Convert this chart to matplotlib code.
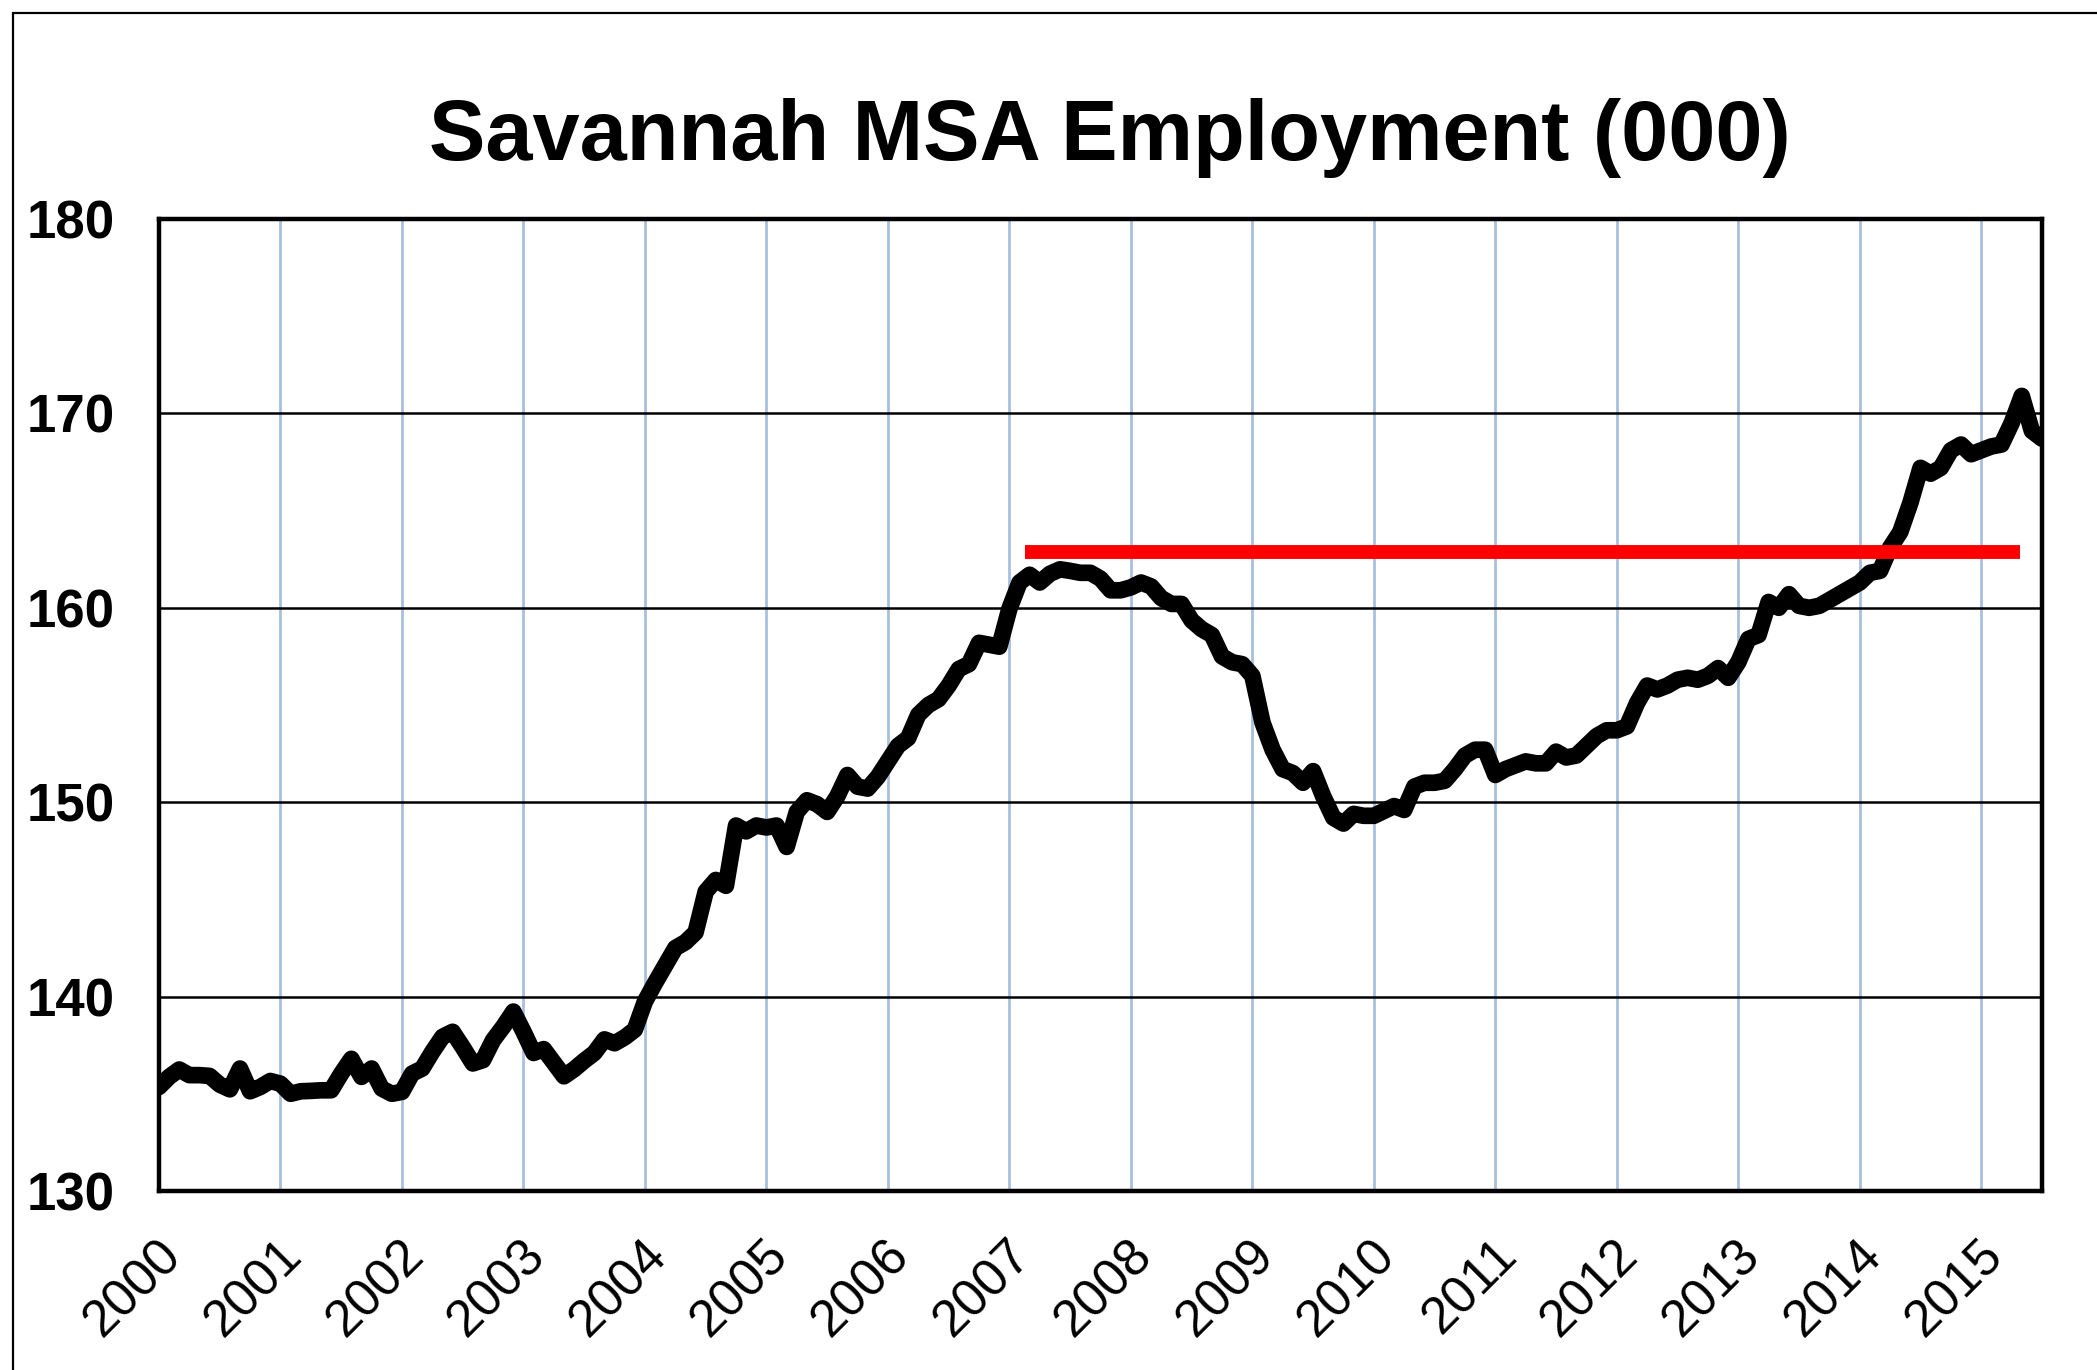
import matplotlib
matplotlib.use('Agg')
import matplotlib.pyplot as plt
import matplotlib.transforms as mtransforms
from matplotlib.patches import Rectangle

# monthly employment (000), Jan of each year onward
y2000 = [135.35, 135.87, 136.25, 135.96, 135.96, 135.92, 135.47, 135.23, 136.3, 135.13, 135.35, 135.66]
y2001 = [135.52, 135.0, 135.13, 135.15, 135.18, 135.18, 136.04, 136.8, 135.87, 136.3, 135.27, 135.0]
y2002 = [135.1, 136.04, 136.3, 137.16, 137.93, 138.19, 137.4, 136.56, 136.73, 137.76, 138.45, 139.23]
y2003 = [138.2, 137.1, 137.3, 136.6, 135.9, 136.26, 136.7, 137.1, 137.8, 137.6, 137.9, 138.3]
y2004 = [139.75, 140.7, 141.6, 142.5, 142.8, 143.3, 145.4, 146.0, 145.7, 148.8, 148.5, 148.8]
y2005 = [148.7, 148.8, 147.7, 149.5, 150.1, 149.9, 149.5, 150.3, 151.4, 150.8, 150.7, 151.3]
y2006 = [152.1, 152.9, 153.3, 154.5, 155.0, 155.3, 156.0, 156.85, 157.1, 158.2, 158.1, 158.0]
y2007 = [159.95, 161.3, 161.7, 161.3, 161.75, 161.98, 161.9, 161.8, 161.8, 161.5, 160.9, 160.9]
y2008 = [161.05, 161.3, 161.1, 160.5, 160.2, 160.2, 159.35, 158.9, 158.6, 157.5, 157.2, 157.1]
y2009 = [156.5, 154.1, 152.7, 151.7, 151.5, 151.0, 151.6, 150.3, 149.2, 148.9, 149.4, 149.3]
y2010 = [149.3, 149.55, 149.8, 149.6, 150.8, 151.0, 151.0, 151.1, 151.7, 152.4, 152.7, 152.7]
y2011 = [151.4, 151.7, 151.9, 152.1, 152.0, 152.0, 152.6, 152.3, 152.4, 152.9, 153.4, 153.7]
y2012 = [153.7, 153.9, 155.1, 156.0, 155.8, 156.0, 156.3, 156.4, 156.3, 156.5, 156.9, 156.4]
y2013 = [157.2, 158.4, 158.6, 160.3, 160.0, 160.7, 160.1, 160.0, 160.1, 160.4, 160.7, 161.0]
y2014 = [161.3, 161.8, 161.9, 163.1, 163.9, 165.4, 167.2, 166.9, 167.2, 168.1, 168.4, 167.9]
y2015 = [168.1, 168.3, 168.4, 169.5, 170.9, 169.1, 168.7]

years = list(range(2000, 2016))
year_labels = [str(y) for y in years]
y_ticks = [130, 140, 150, 160, 170, 180]

# red reference line: pre-recession peak level
peak_level = 162.85
peak_from = 2007.13
peak_to = 2015.32

employment = y2000 + y2001 + y2002 + y2003 + y2004 + y2005 + y2006 + y2007 + \
    y2008 + y2009 + y2010 + y2011 + y2012 + y2013 + y2014 + y2015
dates = [2000 + i / 12 for i in range(len(employment))]

W, H = 2097, 1370
fig = plt.figure(figsize=(W / 100, H / 100), dpi=100)
fig.patch.set_facecolor('white')

# thin frame around the chart area
fig.patches.append(Rectangle((13 / W, -0.1), 2, 1 - 13 / H + 0.1, transform=fig.transFigure,
                             fill=False, edgecolor='black', linewidth=1.6))

ax = fig.add_axes([159 / W, 1 - 1191 / H, (2042 - 159) / W, (1191 - 219) / H])

font = 'Liberation Sans'

ax.plot(dates, employment, color='black', linewidth=12, solid_joinstyle='round',
        solid_capstyle='round', zorder=3)
ax.plot([peak_from, peak_to], [peak_level, peak_level], color='#ff0000', linewidth=10,
        solid_capstyle='butt', zorder=4)

ax.set_xlim(2000, 2015.5)
ax.set_ylim(130, 180)
ax.set_yticks(y_ticks)
ax.set_xticks(years)

ax.yaxis.grid(True, color='black', linewidth=1.8, zorder=1)
for y in years[1:]:
    ax.axvline(y, color='#a7c0df', linewidth=2, zorder=1)

for s in ax.spines.values():
    s.set_linewidth(3.2)
    s.set_color('black')

ax.tick_params(axis='both', length=0)
ax.tick_params(axis='y', pad=32)
ax.set_yticklabels([str(v) for v in y_ticks], fontsize=38, fontweight='bold', fontname=font)
ax.set_xticklabels(year_labels, fontsize=37, fontname=font, rotation=45,
                   rotation_mode='anchor', ha='right', va='center')
offset = mtransforms.ScaledTranslation(14 / 100, -52 / 100, fig.dpi_scale_trans)
for lab in ax.get_xticklabels():
    lab.set_transform(lab.get_transform() + offset)

fig.text(1110 / W, 1 - 138 / H, 'Savannah MSA Employment (000)', ha='center', va='center',
         fontsize=61, fontweight='bold', fontname=font)

fig.savefig('out.png', dpi=100)
